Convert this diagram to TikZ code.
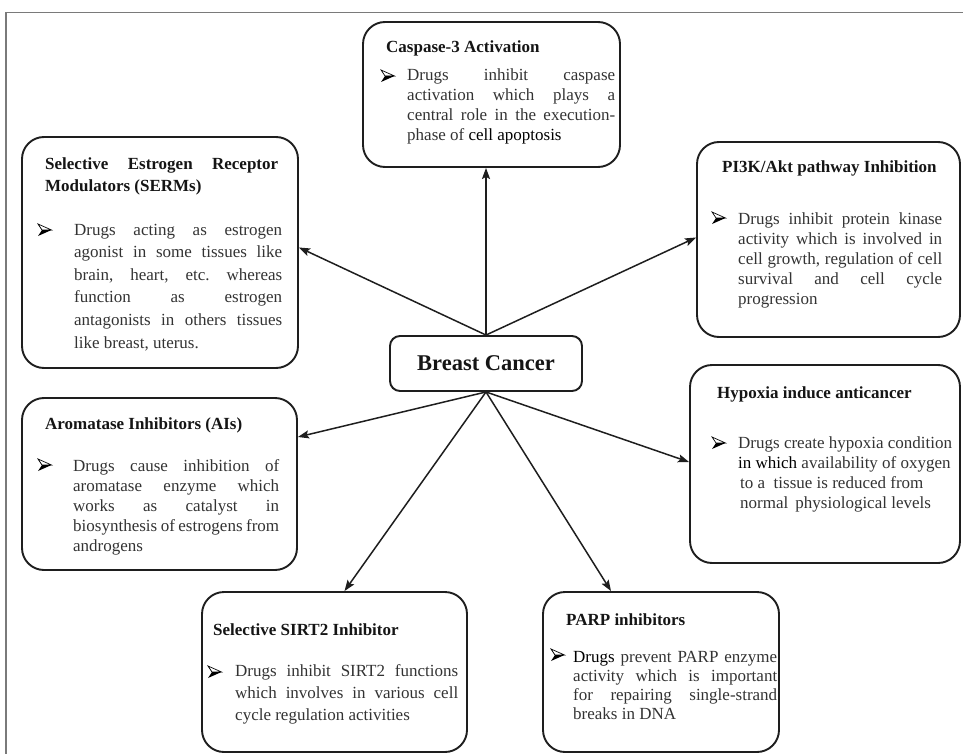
\documentclass[tikz,border=0pt]{standalone}
\usepackage{fontspec}
\setmainfont{Liberation Serif}
\usetikzlibrary{arrows.meta}
\frenchspacing
\definecolor{boxc}{HTML}{1E1E1E}
\definecolor{bodyc}{HTML}{333333}
\definecolor{titlec}{HTML}{151515}
\definecolor{framec}{HTML}{7A7A7A}
\newcommand\txtfont{\fontsize{17}{20}\selectfont\frenchspacing}
\newcommand\hdfont{\fontsize{17}{20}\selectfont\bfseries\frenchspacing}
\newcommand\jline[2]{\makebox[#1][s]{#2}}
\tikzset{
  box/.style={draw=boxc, line width=1.9pt, rounded corners=22pt, inner sep=0pt},
  ln/.style={anchor=base west, inner sep=0pt, font=\txtfont, text=bodyc},
  ttl/.style={anchor=base west, inner sep=0pt, font=\hdfont, text=titlec},
  arr/.style={draw=boxc, line width=1.5pt, -{Stealth[length=11pt,width=8pt,inset=2pt]}},
  bhead/.pic={
    \filldraw[fill=white, draw=black, line width=0.7pt, line join=miter] (0,-11) -- (13.5,-5) -- (4,-5) -- cycle;
    \fill[black] (4,-5) -- (13.5,-5) -- (0,1) -- cycle;
  }
}
\begin{document}
\begin{tikzpicture}[x=1pt,y=-1pt]
\useasboundingbox (0,0) rectangle (963,754);
% frame
\draw[framec, line width=1.4pt] (6,754) -- (6,12.5) -- (963,12.5);

% boxes
\node[box, minimum width=257pt, minimum height=145pt] (casp) at (491.5,94.5) {};
\node[box, minimum width=276pt, minimum height=231pt] (serm) at (160,252.5) {};
\node[box, minimum width=263pt, minimum height=195pt] (pi3k) at (828.5,239.5) {};
\node[box, minimum width=192pt, minimum height=55pt, rounded corners=10pt] (bc) at (486,363.5) {};
\node[box, minimum width=275pt, minimum height=172pt] (arom) at (159.5,484) {};
\node[box, minimum width=270pt, minimum height=198pt] (hypo) at (825,464) {};
\node[box, minimum width=265pt, minimum height=160pt] (sirt) at (334.5,672) {};
\node[box, minimum width=236pt, minimum height=160pt] (parp) at (661,672) {};

% centre
\node[inner sep=0pt, font=\fontsize{22.5}{24}\selectfont\bfseries, text=titlec] (bct) at (bc.center) {Breast Cancer};

% Caspase
\node[ttl] (casp-t) at (386,53) {Caspase-3 Activation};
\pic at (381,81) {bhead};
\node[ln] (casp-1) at (407,81) {\jline{208pt}{Drugs inhibit caspase}};
\node[ln] (casp-2) at (407,101) {\jline{208pt}{activation which plays a}};
\node[ln] (casp-3) at (407,121) {\jline{208pt}{central role in the execution-}};
\node[ln] (casp-4) at (407,141) {phase of \textcolor{black}{cell apoptosis}};

% SERMs
\node[ttl] (serm-t1) at (45,170) {\jline{233pt}{Selective Estrogen Receptor}};
\node[ttl] (serm-t2) at (45,192) {Modulators (SERMs)};
\pic at (38,235) {bhead};
\node[ln] (serm-1) at (74,235) {\jline{208pt}{Drugs acting as estrogen}};
\node[ln] (serm-2) at (74,257.6) {\jline{208pt}{agonist in some tissues like}};
\node[ln] (serm-3) at (74,280.2) {\jline{208pt}{brain, heart, etc. whereas}};
\node[ln] (serm-4) at (74,302.8) {\jline{208pt}{function as estrogen}};
\node[ln] (serm-5) at (74,325.4) {\jline{208pt}{antagonists in others tissues}};
\node[ln] (serm-6) at (74,348) {like breast, uterus.};

% PI3K
\node[ttl] (pi3k-t) at (722,173) {PI3K/Akt pathway Inhibition};
\pic at (712,223) {bhead};
\node[ln] (pi3k-1) at (738,224) {\jline{204pt}{Drugs inhibit protein kinase}};
\node[ln] (pi3k-2) at (738,244) {\jline{204pt}{activity which is involved in}};
\node[ln] (pi3k-3) at (738,264) {\jline{204pt}{cell growth, regulation of cell}};
\node[ln] (pi3k-4) at (738,284) {\jline{204pt}{survival and cell cycle}};
\node[ln] (pi3k-5) at (738,304) {progression};

% Aromatase
\node[ttl] (arom-t) at (45,429) {Aromatase Inhibitors (AIs)};
\pic at (38,470) {bhead};
\node[ln] (arom-1) at (73,471) {\jline{206pt}{Drugs cause inhibition of}};
\node[ln] (arom-2) at (73,491) {\jline{206pt}{aromatase enzyme which}};
\node[ln] (arom-3) at (73,511) {\jline{206pt}{works as catalyst in}};
\node[ln] (arom-4) at (73,531) {\jline{206pt}{biosynthesis of estrogens from}};
\node[ln] (arom-5) at (73,551) {androgens};

% Hypoxia
\node[ttl] (hypo-t) at (717,398) {Hypoxia induce anticancer};
\pic at (712,448) {bhead};
\node[ln] (hypo-1) at (738,448) {Drugs create hypoxia condition};
\node[ln] (hypo-2) at (738,468) {\textcolor{black}{in which} availability of oxygen};
\node[ln] (hypo-3) at (740,488) {to a\ \ tissue is reduced from};
\node[ln] (hypo-4) at (740,508) {normal\, physiological levels};

% SIRT2
\node[ttl] (sirt-t) at (213,635) {Selective SIRT2 Inhibitor};
\pic at (208,677) {bhead};
\node[ln] (sirt-1) at (235,676) {\jline{223pt}{Drugs inhibit SIRT2 functions}};
\node[ln] (sirt-2) at (235,698) {\jline{223pt}{which involves in various cell}};
\node[ln] (sirt-3) at (235,720) {cycle regulation activities};

% PARP
\node[ttl] (parp-t) at (566,625) {PARP inhibitors};
\pic at (551,660) {bhead};
\node[ln] (parp-1) at (573,662) {\jline{204pt}{\textcolor{black}{Drugs} prevent PARP enzyme}};
\node[ln] (parp-2) at (573,681) {\jline{204pt}{activity which is important}};
\node[ln] (parp-3) at (573,700) {\jline{204pt}{for repairing single-strand}};
\node[ln] (parp-4) at (573,719) {breaks in DNA};

% arrows
\draw[arr] (bc.north) -- (bc.north |- casp.south);
\draw[arr] (bc.north) -- ([yshift=5pt]serm.east);
\draw[arr] (bc.north) -- ([yshift=2pt]pi3k.west);
\draw[arr] (bc.south) -- ([yshift=47pt]arom.east);
\draw[arr] (bc.south) -- ([xshift=10pt]sirt.north);
\draw[arr] (bc.south) -- ([xshift=-50pt]parp.north);
\draw[arr] (bc.south) -- ([yshift=2pt]hypo.west);
\end{tikzpicture}
\end{document}
